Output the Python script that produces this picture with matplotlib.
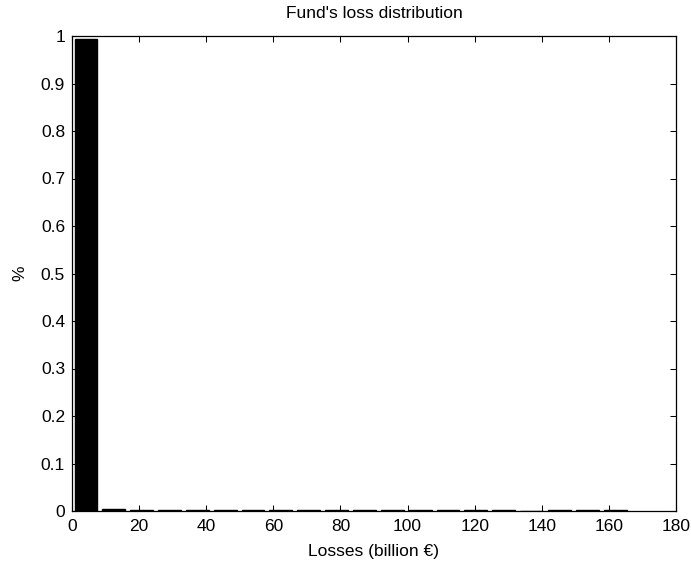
import matplotlib
matplotlib.use("Agg")
import matplotlib.pyplot as plt
import numpy as np

# Histogram of simulated fund losses (20 equal bins)
bin_centers = [4.15, 12.45, 20.75, 29.05, 37.35, 45.65, 53.95, 62.25, 70.55, 78.85,
               87.15, 95.45, 103.75, 112.05, 120.35, 128.65, 136.95, 145.25, 153.55, 161.85]
frequencies = [0.994, 0.004, 0.0015, 0.0015, 0.0015, 0.0015, 0.0015, 0.0015, 0.0015, 0.0015,
               0.0015, 0.0015, 0.0015, 0.0015, 0.0015, 0.0015, 0.0, 0.0015, 0.0015, 0.002]
x_ticks = [0, 20, 40, 60, 80, 100, 120, 140, 160, 180]
y_ticks = [0, 0.1, 0.2, 0.3, 0.4, 0.5, 0.6, 0.7, 0.8, 0.9, 1]

plt.rcParams['font.family'] = ['Liberation Sans', 'DejaVu Sans']
plt.rcParams['font.size'] = 12.5

fig = plt.figure(figsize=(6.91, 5.67), dpi=100)
ax = fig.add_axes([72 / 691, 56 / 567, 604 / 691, 475 / 567])

bin_width = bin_centers[1] - bin_centers[0]
ax.bar(bin_centers, frequencies, width=0.82 * bin_width, color='black',
       edgecolor='black', linewidth=1.0, align='center')

ax.set_xlim(0, 180)
ax.set_ylim(0, 1)
ax.set_xticks(x_ticks)
ax.set_xticklabels([str(t) for t in x_ticks])
ax.set_yticks(y_ticks)
ax.set_yticklabels(['0', '0.1', '0.2', '0.3', '0.4', '0.5', '0.6', '0.7', '0.8', '0.9', '1'])

ax.tick_params(direction='in', length=4.5, width=0.75, top=True, right=True,
               colors='black', labelsize=12.5, pad=5)
ax.tick_params(axis='x', pad=6)
for side in ax.spines.values():
    side.set_linewidth(0.9)
    side.set_color('black')

ax.set_title("Fund's loss distribution", fontsize=12.5, pad=13)
ax.set_xlabel("Losses (billion \u20ac)", fontsize=12.5, labelpad=7)
ax.set_ylabel("%", fontsize=12.5, labelpad=10)

fig.savefig("out.png", dpi=100, facecolor='white')
